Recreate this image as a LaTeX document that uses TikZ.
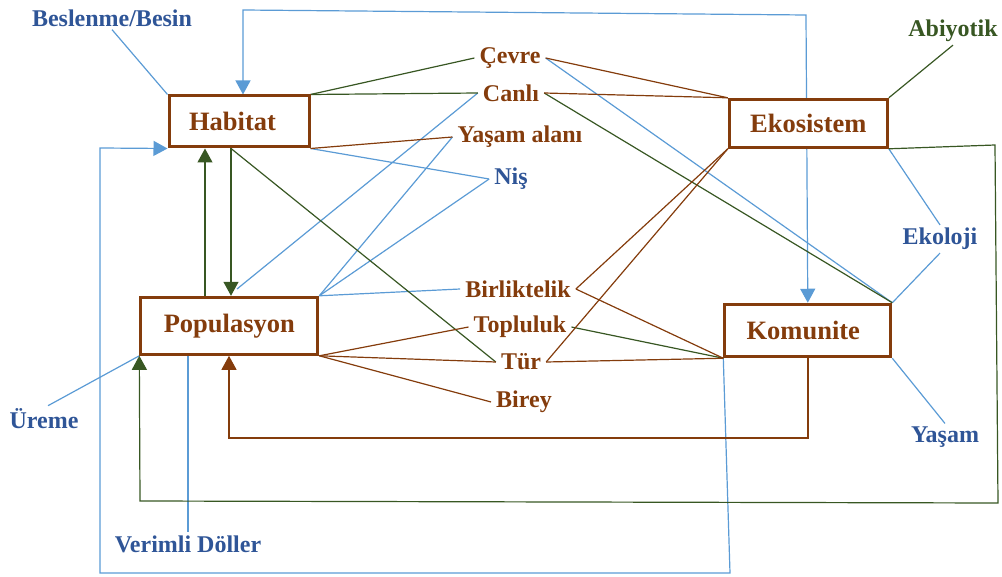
\documentclass[tikz,border=0pt]{standalone}
\usepackage{fontspec}
\setmainfont{Liberation Serif}
\usetikzlibrary{arrows.meta}
\definecolor{brn}{HTML}{843C0C}
\definecolor{lblue}{HTML}{2F5597}
\definecolor{lnblue}{HTML}{5B9BD5}
\definecolor{grn}{HTML}{385723}
\pgfdeclarelayer{bg}
\pgfsetlayers{bg,main}
\begin{document}
\begin{tikzpicture}[x=1pt,y=-1pt,
 box/.style={draw=brn, line width=3pt, fill=white, text=brn, font=\fontsize{26.5}{30}\selectfont\bfseries, inner sep=0pt},
 lab/.style={font=\fontsize{24}{28}\selectfont\bfseries, inner xsep=5pt, inner ysep=3pt},
 bl/.style={lab,text=brn}, bu/.style={lab,text=lblue}, gl/.style={lab,text=grn},
 cb/.style={draw=lnblue, line width=1.2pt},
 cg/.style={draw=grn, line width=1.2pt},
 cr/.style={draw=brn, line width=1.2pt},
 tip/.style={-{Triangle[width=15pt,length=14pt]}},
 tips/.style={{Triangle[width=15pt,length=14pt]}-{Triangle[width=15pt,length=14pt]}},
]
\useasboundingbox (0,0) rectangle (1002,577);

% boxes
\node[box, minimum width=140pt, minimum height=51pt] (hab) at (239,121.5) {Habitat\hspace*{13pt}};
\node[box, minimum width=158pt, minimum height=48pt] (eko) at (808.3,123.3) {Ekosistem};
\node[box, minimum width=177pt, minimum height=57pt] (pop) at (229.3,325.8) {Populasyon};
\node[box, minimum width=166pt, minimum height=52.5pt] (kom) at (807.8,330.5) {Komunite\hspace*{9pt}};

% labels
\node[bu] (besl) at (112,18) {Beslenme/Besin};
\node[bl] (cevre) at (510,58) {Çevre};
\node[bl] (canli) at (511,93) {Canlı};
\node[bl] (yalan) at (520,137) {Yaşam alanı};
\node[bu] (nis) at (511,179) {Niş};
\node[gl] (abiy) at (953,31) {Abiyotik};
\node[bu] (ekol) at (940,239) {Ekoloji};
\node[bl] (birl) at (518,289) {Birliktelik};
\node[bl] (topl) at (520,327) {Topluluk};
\node[bl] (tur) at (521,362) {Tür};
\node[bl] (birey) at (524,402) {Birey};
\node[bu] (ureme) at (44,419) {Üreme};
\node[bu] (verim) at (188,544) {Verimli Döller};
\node[bu] (yasam) at (945,437) {Yaşam};

% helper coordinates
\coordinate (t1) at (243,10);
\coordinate (t2) at (806,15);
\coordinate (l1) at (730,573);
\coordinate (l2) at (100,573);
\coordinate (l3) at (100,148);
\coordinate (popc) at (237,289);
\coordinate (gu) at (205,0);
\coordinate (gd) at (231,0);
\coordinate (g1) at (995,145);
\coordinate (g2) at (998,503);
\coordinate (g3) at (140,501);
\coordinate (b1) at (808,438);
\coordinate (b2) at (229,438);

\begin{pgfonlayer}{bg}
% blue connectors
\draw[cb] (besl.south) -- (hab.north west);
\draw[cb,tips] (kom.north) -- (t2) -- (t1) -- (hab.north -| t1);
\draw[cb,tip] (kom.south west) -- (l1) -- (l2) -- (l3) -- (hab.south west);
\draw[cb] ([xshift=4pt]ureme.north) -- (pop.south west);
\draw[cb] (pop.south -| verim.north) -- (verim.north);
\draw[cb] (canli.west) -- (popc);
\draw[cb] (yalan.west) -- (pop.north east);
\draw[cb] (nis.west) -- (pop.north east);
\draw[cb] (hab.south east) -- (nis.west);
\draw[cb] (birl.west) -- (pop.north east);
\draw[cb] (cevre.east) -- (kom.north east);
\draw[cb] (eko.south east) -- (ekol.north);
\draw[cb] (ekol.south) -- (kom.north east);
\draw[cb] (kom.south east) -- (yasam.north);
% green connectors
\draw[cg] (hab.north east) -- (cevre.west);
\draw[cg] (hab.north east) -- (canli.west);
\draw[cg] (canli.east) -- (kom.north east);
\draw[cg] (hab.south -| gd) -- (tur.west);
\draw[cg,tip] (pop.north -| gu) -- (hab.south -| gu);
\draw[cg,tip] (hab.south -| gd) -- (pop.north -| gd);
\draw[cg] (topl.east) -- (kom.south west);
\draw[cg,tip] (eko.south east) -- (g1) -- (g2) -- (g3) -- (pop.south west);
\draw[cg] (abiy.south) -- (eko.north east);
% brown connectors
\draw[cr] (cevre.east) -- (eko.north west);
\draw[cr] (canli.east) -- (eko.north west);
\draw[cr] (hab.south east) -- (yalan.west);
\draw[cr] (eko.south west) -- (birl.east);
\draw[cr] (eko.south west) -- (tur.east);
\draw[cr] (birl.east) -- (kom.south west);
\draw[cr] (tur.east) -- (kom.south west);
\draw[cr] (pop.south east) -- (topl.west);
\draw[cr] (pop.south east) -- (tur.west);
\draw[cr] (pop.south east) -- (birey.west);
\draw[cr,tip] (kom.south -| b1) -- (b1) -- (b2) -- (pop.south -| b2);
\end{pgfonlayer}
\end{tikzpicture}
\end{document}
